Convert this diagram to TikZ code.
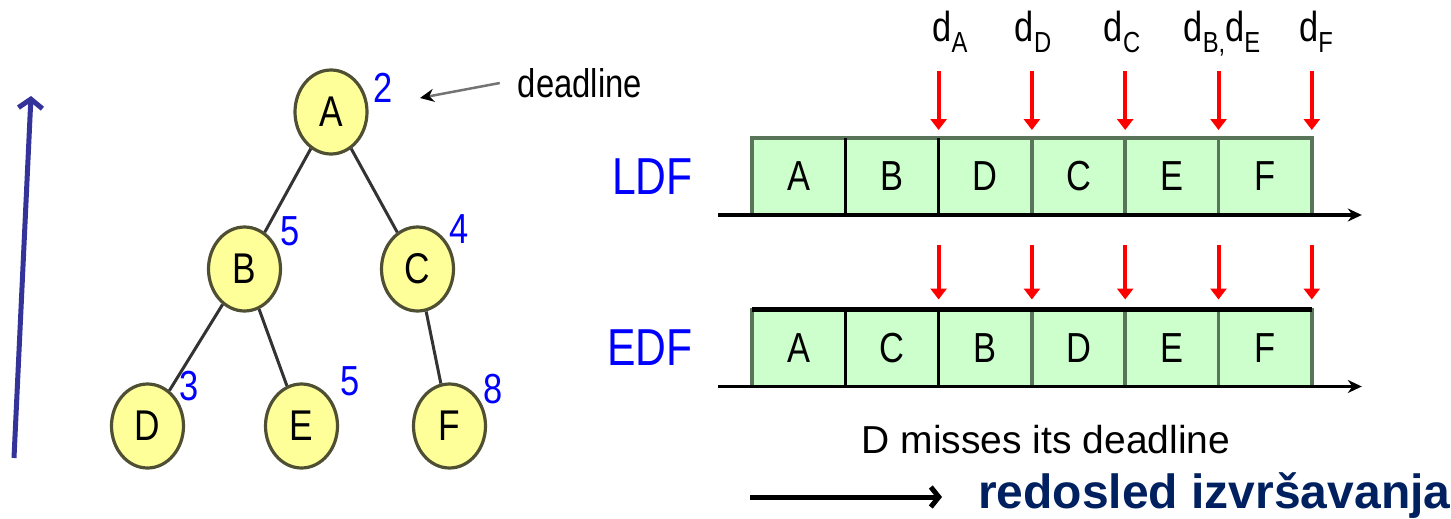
\documentclass[tikz,border=0pt]{standalone}
\usepackage{fontspec}
\setmainfont{Liberation Sans}
\newfontfamily\cond[FakeStretch=0.82]{Liberation Sans}
\usetikzlibrary{shapes.geometric,arrows.meta,positioning}

\definecolor{taskfill}{HTML}{FFFF99}
\definecolor{taskline}{HTML}{4F4F33}
\definecolor{slotfill}{HTML}{CCFFCC}
\definecolor{slotline}{HTML}{5A745A}
\definecolor{arrowblue}{HTML}{333399}
\definecolor{navy}{HTML}{002060}

% deadline symbol d with a lowered index
\newcommand{\ddl}[1]{d\raisebox{-11pt}{\fontsize{29}{29}\selectfont #1}}

\begin{document}
\begin{tikzpicture}[x=1pt,y=-1pt,
  task/.style={ellipse,draw=taskline,fill=taskfill,line width=3.2pt,minimum width=72pt,minimum height=84pt,inner sep=0pt,font=\cond\fontsize{43}{43}\selectfont},
  dl/.style={text=blue,font=\cond\fontsize{42}{42}\selectfont,inner sep=1pt},
  level distance=157pt,
  level 1/.style={sibling distance=173pt},
  level 2/.style={sibling distance=154pt},
  edge from parent/.style={draw=black!80,line width=3pt},
  slot/.style={rectangle,draw=slotline,fill=slotfill,line width=3.5pt,minimum width=93.3pt,minimum height=77pt,inner sep=0pt,outer sep=0pt,font=\cond\fontsize{42}{42}\selectfont},
  miss/.style={red,line width=4pt,-{Triangle[length=11pt,width=16pt]}},
  axis/.style={line width=3.5pt,-{Stealth[length=14pt,width=13pt]}}]
\useasboundingbox (0,0) rectangle (1451,519);

% order of execution, bottom to top
\coordinate (up0) at (14,458);
\coordinate (up1) at (31,96);
\draw [arrowblue,line width=5pt,-{Straight Barb[length=9pt,width=24pt]}] (up0) -- (up1);

% precedence tree with deadlines
\node [task,label={[dl,name=nA,label distance=4pt]12:2}] (A) at (331,112) {A}
  child {node [task,label={[dl,label distance=2pt]32:5}] (B) {B}
    child [xshift=-20pt] {node [task,label={[dl]38:3}] (D) {D}}
    child [xshift=-20pt] {node [task,label={[dl,label distance=8pt]38:5}] (E) {E}}
  }
  child {node [task,label={[dl]38:4}] (C) {C}
    child [xshift=32pt] {node [task,label={[dl]32:8}] (F) {F}}
  };
\node [font=\cond\fontsize{40}{40}\selectfont,inner sep=0pt] (note) at (580,83) {deadline};
\coordinate (tip) at (420,98);
\draw [black!55,line width=2.5pt,-{Stealth[black,length=14pt,width=13pt]}] ([xshift=-18pt]note.west) -- (tip);

% LDF schedule
\node [slot] (l1) at (798.65,176.5) {A};
\node [slot,right=0pt of l1] (l2) {B};
\node [slot,right=0pt of l2] (l3) {D};
\node [slot,right=0pt of l3] (l4) {C};
\node [slot,right=0pt of l4] (l5) {E};
\node [slot,right=0pt of l5] (l6) {F};
\draw [line width=3pt] (l1.north east) -- (l1.south east) (l2.north east) -- (l2.south east);
\node [text=blue,font=\cond\fontsize{52}{52}\selectfont,inner sep=0pt,left=59pt of l1] (ldf) {LDF};
\draw [axis] ([xshift=-34pt]l1.south west) -- ([xshift=50pt]l6.south east);

\node [inner sep=0pt,anchor=base,font=\cond\fontsize{42}{42}\selectfont] (dA) at (950,42) {\ddl{A}};
\node [inner sep=0pt,anchor=base,font=\cond\fontsize{42}{42}\selectfont] (dD) at (1033,42) {\ddl{D}};
\node [inner sep=0pt,anchor=base,font=\cond\fontsize{42}{42}\selectfont] (dC) at (1122,42) {\ddl{C}};
\node [inner sep=0pt,anchor=base,font=\cond\fontsize{42}{42}\selectfont] (dBE) at (1222,42) {\ddl{B,}\ddl{E}};
\node [inner sep=0pt,anchor=base,font=\cond\fontsize{42}{42}\selectfont] (dF) at (1316,42) {\ddl{F}};
\draw [miss] ([yshift=67pt]l2.north east) -- ([yshift=8pt]l2.north east);
\draw [miss] ([yshift=67pt]l3.north east) -- ([yshift=8pt]l3.north east);
\draw [miss] ([yshift=67pt]l4.north east) -- ([yshift=8pt]l4.north east);
\draw [miss] ([yshift=67pt]l5.north east) -- ([yshift=8pt]l5.north east);
\draw [miss] ([yshift=67pt]l6.north east) -- ([yshift=8pt]l6.north east);

% EDF schedule
\node [slot] (e1) at (798.65,348) {A};
\node [slot,right=0pt of e1] (e2) {C};
\node [slot,right=0pt of e2] (e3) {B};
\node [slot,right=0pt of e3] (e4) {D};
\node [slot,right=0pt of e4] (e5) {E};
\node [slot,right=0pt of e5] (e6) {F};
\draw [line width=3pt] (e1.north east) -- (e1.south east) (e2.north east) -- (e2.south east);
\draw [line width=5pt] (e1.north west) -- (e6.north east);
\node [text=blue,font=\cond\fontsize{52}{52}\selectfont,inner sep=0pt,left=59pt of e1] (edf) {EDF};
\draw [axis] ([xshift=-34pt]e1.south west) -- ([xshift=50pt]e6.south east);

\draw [miss] ([yshift=65pt]e2.north east) -- ([yshift=10pt]e2.north east);
\draw [miss] ([yshift=65pt]e3.north east) -- ([yshift=10pt]e3.north east);
\draw [miss] ([yshift=65pt]e4.north east) -- ([yshift=10pt]e4.north east);
\draw [miss] ([yshift=65pt]e5.north east) -- ([yshift=10pt]e5.north east);
\draw [miss] ([yshift=65pt]e6.north east) -- ([yshift=10pt]e6.north east);

\node [font=\fontsize{39}{39}\selectfont,inner sep=0pt] (late) at (1046,440) {D misses its deadline};

% legend
\node [anchor=base west,text=navy,font=\bfseries\fontsize{48}{48}\selectfont,inner sep=0pt] (order) at (978,508) {redosled izvršavanja};
\coordinate (o0) at (750,497);
\coordinate (o1) at (942,497);
\draw [line width=5pt,-{Straight Barb[length=8pt,width=20pt]}] (o0) -- (o1);
\end{tikzpicture}
\end{document}
